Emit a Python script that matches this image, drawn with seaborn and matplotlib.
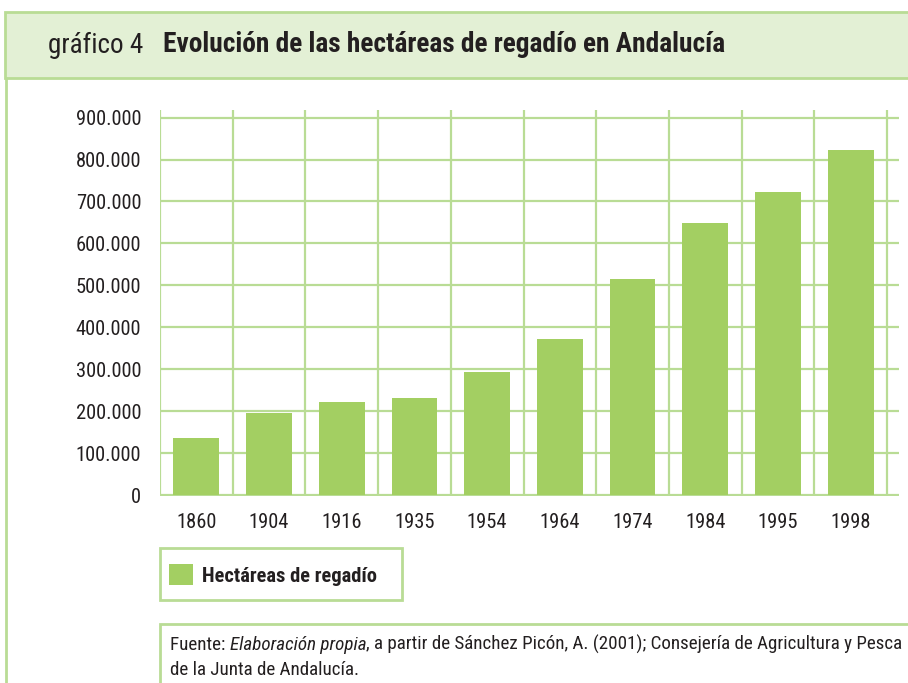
import matplotlib
matplotlib.use("Agg")
import matplotlib.pyplot as plt
import matplotlib.patches as mpatches
from matplotlib.lines import Line2D
from matplotlib import font_manager
import numpy as np
import seaborn as sns

years = ["1860", "1904", "1916", "1935", "1954", "1964", "1974", "1984", "1995", "1998"]
hectareas = [137000, 195000, 223000, 232000, 294000, 373000, 516000, 649000, 723000, 823000]
y_ticks = [0, 100000, 200000, 300000, 400000, 500000, 600000, 700000, 800000, 900000]
y_labels = ["0", "100.000", "200.000", "300.000", "400.000", "500.000",
            "600.000", "700.000", "800.000", "900.000"]

BAR = "#a3cf62"
GRID = "#b9dc95"
HEAD = "#e3f0d5"
TEXT = "#231f20"

W, H = 908, 683

sns.set_style("white")

# pick a narrow face if there is one
found = [(f.name, f.stretch) for f in font_manager.fontManager.ttflist]
names = set(n for n, _ in found)
family = "DejaVu Sans"
stretch = "normal"
for cand in ["Roboto Condensed", "Liberation Sans Narrow", "Open Sans Condensed",
             "Noto Sans Condensed"]:
    if cand in names:
        family = cand
        break
else:
    for n, st in found:
        if st in ("condensed", "semi-condensed", 75, 87.5) and n in (
                "DejaVu Sans", "Noto Sans", "Open Sans", "Roboto", "Liberation Sans"):
            family, stretch = n, st
            break

plt.rcParams["font.family"] = [family, "DejaVu Sans"]
plt.rcParams["font.stretch"] = stretch
plt.rcParams["text.color"] = TEXT


def fx(x):
    return x / W


def fy(y):
    return 1 - y / H


fig = plt.figure(figsize=(W / 100, H / 100), dpi=100)
ax = fig.add_axes([fx(160), fy(496), fx(899) - fx(160), fy(110) - fy(496)])

sns.barplot(x=years, y=hectareas, color=BAR, saturation=1, width=0.63,
            linewidth=0, label="Hectáreas de regadío", ax=ax)

ax.set_xlim(-0.5, 9.665)
ax.set_ylim(-2000, 918000)
ax.set_yticks(y_ticks)
ax.set_yticklabels(y_labels)
ax.set_xticks(np.arange(-0.5, 10, 1), minor=True)
ax.set_axisbelow(True)
ax.grid(which="major", axis="y", color=GRID, linewidth=1.6)
ax.grid(which="minor", axis="x", color=GRID, linewidth=1.6)
ax.grid(which="major", axis="x", visible=False)
for s in ax.spines.values():
    s.set_visible(False)
ax.tick_params(axis="y", length=7.5, width=1.6, color=GRID, pad=6, labelsize=14.8, labelcolor=TEXT)
ax.tick_params(axis="x", which="major", length=0, pad=12, labelsize=14.8, labelcolor=TEXT)
ax.tick_params(axis="x", which="minor", length=5, width=1.6, color=GRID)
ax.set_xlabel("")
ax.set_ylabel("")

# header band
fig.add_artist(mpatches.Rectangle((fx(5), fy(78)), fx(912) - fx(5), fy(12) - fy(78),
                                  transform=fig.transFigure, facecolor=HEAD,
                                  edgecolor=GRID, linewidth=2, zorder=-1))
fig.add_artist(Line2D([fx(6), fx(6)], [fy(78), fy(690)], transform=fig.transFigure,
                      color=GRID, linewidth=2))
fig.text(fx(48), fy(45), "gráfico 4", fontsize=19.5, va="center", ha="left")
fig.text(fx(163), fy(45), "Evolución de las hectáreas de regadío en Andalucía",
         fontsize=19.7, fontweight="bold", va="center", ha="left")

# legend
fig.add_artist(mpatches.Rectangle((fx(160), fy(600)), fx(402) - fx(160), fy(548) - fy(600),
                                  transform=fig.transFigure, facecolor="none",
                                  edgecolor=GRID, linewidth=2))
leg = ax.legend(loc="center left", bbox_to_anchor=(fx(161), fy(575)),
                bbox_transform=fig.transFigure, frameon=False,
                prop={"weight": "bold", "size": 14.8}, handlelength=1.15,
                handleheight=1.15, handletextpad=0.45, borderaxespad=0)

# source box
fig.add_artist(mpatches.Rectangle((fx(160), fy(700)), fx(915) - fx(160), fy(624) - fy(700),
                                  transform=fig.transFigure, facecolor="none",
                                  edgecolor=GRID, linewidth=2))
t1 = fig.text(fx(170), fy(645), "Fuente: ", fontsize=13.7, va="center", ha="left")
t2 = ax.annotate("Elaboración propia", xy=(1, 0), xycoords=t1, fontsize=13.7,
                 fontstyle="italic", va="bottom", ha="left", annotation_clip=False)
ax.annotate(", a partir de Sánchez Picón, A. (2001); Consejería de Agricultura y Pesca",
            xy=(1, 0), xycoords=t2, fontsize=13.7, va="bottom", ha="left",
            annotation_clip=False)
fig.text(fx(170), fy(670), "de la Junta de Andalucía.", fontsize=13.7, va="center", ha="left")

fig.savefig("out.png", dpi=100)
